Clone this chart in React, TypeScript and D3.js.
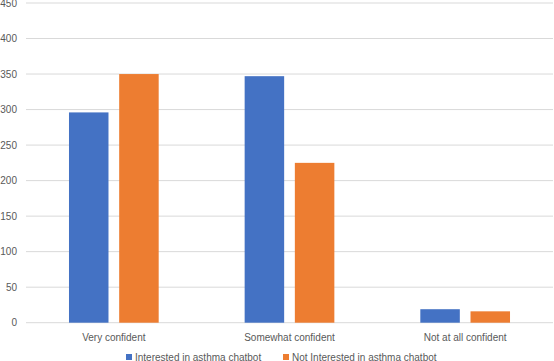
import { useCallback, useEffect, useRef } from 'react';

import { axisLeft, scaleBand, scaleLinear, scaleOrdinal, select } from 'd3';

const categories = ['Very confident', 'Somewhat confident', 'Not at all confident'];
const seriesNames = ['Interested in asthma chatbot', 'Not Interested in asthma chatbot'];
const interested = [296, 347, 19];
const notInterested = [350, 225, 16];
const yTicks = [0, 50, 100, 150, 200, 250, 300, 350, 400, 450];

const FONT = "'Liberation Sans', Arial, sans-serif";

export default function App() {
  const containerRef = useRef<HTMLDivElement>(null);

  const initChart = useCallback(() => {
    const container = containerRef.current;
    if (!container) return;

    const color = scaleOrdinal<string>().domain(seriesNames).range(['#4472C4', '#ED7D31']);

    const W = 554,
      H = 361;
    const margin = { top: 3, right: 1, bottom: 38, left: 26 };
    const width = W - margin.left - margin.right,
      height = 322.7 - margin.top;

    const div = select(container);
    div.select('svg').remove();

    const root = div
      .append('svg')
      .attr('width', W)
      .attr('height', H)
      .style('position', 'absolute')
      .style('left', 0)
      .style('top', 0)
      .style('background', '#fff');

    const svg = root.append('g').attr('transform', `translate(${margin.left},${margin.top})`);

    const x0 = scaleBand<string>().domain(categories).range([0, width]).padding(0);
    const group = 89.7;
    const x1 = scaleBand<string>()
      .domain(seriesNames)
      .range([-group / 2, group / 2])
      .paddingInner(0.213)
      .paddingOuter(0);
    const y = scaleLinear().domain([0, 450]).range([height, 0]);

    // gridlines
    svg
      .append('g')
      .attr('class', 'grid')
      .selectAll('line')
      .data(yTicks)
      .join('line')
      .attr('x1', 0)
      .attr('x2', width)
      .attr('y1', (d) => y(d))
      .attr('y2', (d) => y(d))
      .attr('stroke', '#d9d9d9')
      .attr('stroke-width', 1);

    // Y axis labels
    svg
      .append('g')
      .attr('class', 'y-axis')
      .call(axisLeft(y).tickValues(yTicks).tickSize(0).tickPadding(9))
      .call((g) => {
        g.select('.domain').remove();
        g.selectAll('text')
          .attr('font-family', FONT)
          .attr('font-size', 10)
          .attr('fill', '#595959');
      });

    // bars
    const rows = categories.map((c, i) => ({
      cat: c,
      vals: [
        { key: seriesNames[0], value: interested[i] },
        { key: seriesNames[1], value: notInterested[i] },
      ],
    }));

    svg
      .append('g')
      .attr('class', 'bars')
      .selectAll('g')
      .data(rows)
      .join('g')
      .attr('transform', (d) => `translate(${(x0(d.cat) || 0) + x0.bandwidth() / 2},0)`)
      .selectAll('rect')
      .data((d) => d.vals)
      .join('rect')
      .attr('x', (d) => x1(d.key) || 0)
      .attr('y', (d) => y(d.value))
      .attr('width', x1.bandwidth())
      .attr('height', (d) => height - y(d.value))
      .attr('fill', (d) => color(d.key));

    // category labels
    svg
      .append('g')
      .attr('class', 'x-labels')
      .selectAll('text')
      .data(categories)
      .join('text')
      .attr('x', (d) => (x0(d) || 0) + x0.bandwidth() / 2)
      .attr('y', height + 18)
      .attr('text-anchor', 'middle')
      .attr('font-family', FONT)
      .attr('font-size', 10)
      .attr('fill', '#595959')
      .text((d) => d);

    // legend
    const legendX = [126, 283];
    const legend = root
      .append('g')
      .attr('class', 'legend')
      .selectAll('g')
      .data(seriesNames)
      .join('g')
      .attr('transform', (_d, i) => `translate(${legendX[i]},357)`);
    legend
      .append('rect')
      .attr('x', 0)
      .attr('y', -3)
      .attr('width', 6)
      .attr('height', 6)
      .attr('fill', (d) => color(d));
    legend
      .append('text')
      .attr('x', 9)
      .attr('y', 3.5)
      .attr('font-family', FONT)
      .attr('font-size', 10)
      .attr('fill', '#595959')
      .text((d) => d);
  }, []);

  const destroyChart = useCallback(() => {
    const container = containerRef.current;
    if (!container) return;
    select(container).select('svg').remove();
  }, []);

  useEffect(() => {
    initChart();
    return destroyChart;
  }, [destroyChart, initChart]);

  return <div ref={containerRef} />;
}
